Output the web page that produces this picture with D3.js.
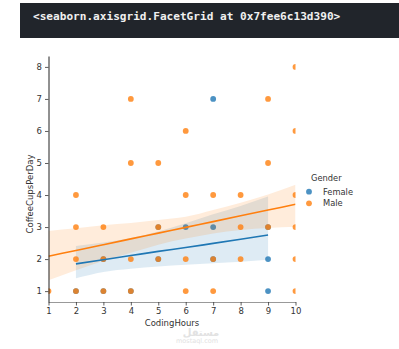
<!DOCTYPE html>
<html>
<head>
<meta charset="utf-8">
<script src="https://cdn.jsdelivr.net/npm/d3@7"></script>
<style>
html,body{margin:0;padding:0;background:#fff;}
svg{display:block;}
</style>
</head>
<body>
<svg id="chart" width="399" height="349"></svg>
<script>
// ---- data ----
const headerText = "<seaborn.axisgrid.FacetGrid at 0x7fee6c13d390>";
const xTicks = [1,2,3,4,5,6,7,8,9,10];
const yTicks = [1,2,3,4,5,6,7,8];
const genders = ["Female","Male"];
const femaleX = [2,3,4,3,5,7,9,9,5,6,7,9,7];
const femaleY = [1,1,1,2,2,2,2,1,3,3,3,3,7];
const maleX = [1, 2,2,2,2, 3,3,3, 4,4,4,4, 5,5,5, 6,6,6,6, 7,7,7, 8,8,8, 9,9,9, 10,10,10,10,10,10];
const maleY = [1, 1,2,3,4, 1,2,3, 1,2,5,7, 2,3,5, 1,2,4,6, 1,2,4, 2,3,4, 3,5,7, 1,2,3,4,6,8];
// regression fits and confidence bands
const femaleFitX = [2,3,4,5,6,7,8,9];
const femaleFitY = [1.85,1.98,2.11,2.24,2.36,2.49,2.62,2.75];
const femaleLow  = [1.40,1.60,1.70,1.77,1.82,1.87,1.92,1.98];
const femaleHigh = [2.41,2.52,2.66,2.86,3.12,3.40,3.66,3.95];
const maleFitX = [1,2,3,4,5,6,7,8,9,10];
const maleFitY = [2.09,2.27,2.45,2.63,2.81,2.99,3.17,3.35,3.53,3.71];
const maleLow  = [1.34,1.65,1.95,2.20,2.45,2.64,2.80,2.91,2.97,3.01];
const maleHigh = [2.88,2.96,3.06,3.13,3.22,3.32,3.53,3.76,4.02,4.32];
const colors = {Female:"#1f77b4", Male:"#ff7f0e"};

// ---- drawing ----
const svg = d3.select("#chart");
const font = "DejaVu Sans";

// header bar
svg.append("rect").attr("x",20).attr("y",3).attr("width",379).attr("height",35).attr("fill","#21252b");
svg.append("text").attr("x",33).attr("y",20).attr("fill","#f0f0f0")
  .attr("font-family","DejaVu Sans Mono").attr("font-weight","bold").attr("font-size",11.1)
  .text(headerText);

const x = d3.scaleLinear().domain([1,10]).range([48.5,295.5]);
const y = d3.scaleLinear().domain([0.66,8.34]).range([302,56]);

svg.append("defs").append("clipPath").attr("id","clip")
  .append("rect").attr("x",48.5).attr("y",56).attr("width",247).attr("height",246);

const plot = svg.append("g").attr("clip-path","url(#clip)");

const area = d3.area().x(d=>x(d.x)).y0(d=>y(d.lo)).y1(d=>y(d.hi)).curve(d3.curveMonotoneX);
const line = d3.line().x(d=>x(d.x)).y(d=>y(d.y)).curve(d3.curveMonotoneX);

function pts(xs, ys){ return xs.map((v,i)=>({x:v,y:ys[i]})); }
function band(xs, lo, hi){ return xs.map((v,i)=>({x:v,lo:lo[i],hi:hi[i]})); }

function scatter(data, color){
  plot.append("g").selectAll("circle").data(data).join("circle")
    .attr("cx",d=>x(d.x)).attr("cy",d=>y(d.y)).attr("r",2.9)
    .attr("fill",color).attr("fill-opacity",0.8);
}
// collections: female scatter, female band, male scatter, male band
scatter(pts(femaleX,femaleY), colors.Female);
plot.append("path").datum(band(femaleFitX,femaleLow,femaleHigh)).attr("d",area)
  .attr("fill",colors.Female).attr("fill-opacity",0.15);
scatter(pts(maleX,maleY), colors.Male);
plot.append("path").datum(band(maleFitX,maleLow,maleHigh)).attr("d",area)
  .attr("fill",colors.Male).attr("fill-opacity",0.15);
// lines on top
plot.append("path").datum(pts(femaleFitX,femaleFitY)).attr("d",line)
  .attr("fill","none").attr("stroke",colors.Female).attr("stroke-width",1.6);
plot.append("path").datum(pts(maleFitX,maleFitY)).attr("d",line)
  .attr("fill","none").attr("stroke",colors.Male).attr("stroke-width",1.6);

// axes
const xAxis = svg.append("g").attr("transform","translate(0,302)")
  .call(d3.axisBottom(x).tickValues(xTicks).tickSize(3.5).tickPadding(2).tickSizeOuter(0));
const yAxis = svg.append("g").attr("transform","translate(48.5,0)")
  .call(d3.axisLeft(y).tickValues(yTicks).tickSize(3.5).tickPadding(3).tickSizeOuter(0));
[xAxis,yAxis].forEach(a=>{
  a.selectAll("text").attr("font-family",font).attr("font-size",8.5).attr("fill","#333");
  a.selectAll(".tick line").attr("stroke","#333").attr("stroke-width",0.8);
});
xAxis.select(".domain").attr("stroke","#999").attr("stroke-width",1.2);
yAxis.select(".domain").attr("stroke","#222").attr("stroke-width",1);

svg.append("text").attr("x",172).attr("y",326).attr("text-anchor","middle")
  .attr("font-family",font).attr("font-size",8.5).attr("fill","#333").text("CodingHours");
svg.append("text").attr("transform","translate(33,194) rotate(-90)").attr("text-anchor","middle")
  .attr("font-family",font).attr("font-size",8.5).attr("fill","#333").text("CoffeeCupsPerDay");

// legend
const leg = svg.append("g");
leg.append("text").attr("x",311).attr("y",181).attr("font-family",font).attr("font-size",8.3)
  .attr("fill","#333").text("Gender");
genders.forEach((g,i)=>{
  const cy = 191.7 + i*11.6;
  leg.append("circle").attr("cx",309).attr("cy",cy).attr("r",2.9).attr("fill",colors[g]).attr("fill-opacity",0.8);
  leg.append("text").attr("x",323).attr("y",cy+3).attr("font-family",font).attr("font-size",8.3)
    .attr("fill","#333").text(g);
});

// watermark
svg.append("text").attr("x",201).attr("y",336).attr("text-anchor","middle")
  .attr("font-family",font).attr("font-size",10).attr("font-weight","bold").attr("fill","#e2e2e2").text("مستقل");
svg.append("text").attr("x",197).attr("y",343).attr("text-anchor","middle")
  .attr("font-family",font).attr("font-size",6.5).attr("fill","#e2e2e2").text("mostaql.com");
</script>
</body>
</html>
